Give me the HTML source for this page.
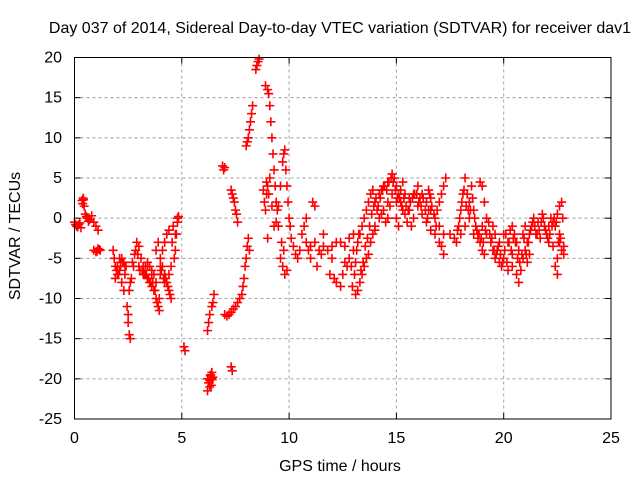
<!DOCTYPE html>
<html><head><meta charset="utf-8"><style>
body{margin:0;background:#fff}
svg{display:block;font-family:"Liberation Sans",sans-serif}
</style></head><body>
<svg id="chart" width="640" height="480" viewBox="0 0 640 480">
<rect width="640" height="480" fill="#fff"/>
<text x="340" y="33" font-size="16" text-anchor="middle">Day 037 of 2014, Sidereal Day-to-day VTEC variation (SDTVAR) for receiver dav1</text>
<text x="340" y="471" font-size="16" text-anchor="middle">GPS time / hours</text>
<text transform="translate(20,236) rotate(-90)" font-size="16" text-anchor="middle">SDTVAR / TECUs</text>
<g id="grid"></g>
<g id="ticks"></g>
<g id="marks"></g>
<rect x="74.5" y="57.5" width="536.5" height="361.5" fill="none" stroke="#000" stroke-width="1"/>
</svg>
<script>
const xTicks=[0,5,10,15,20,25];
const yTicks=[-25,-20,-15,-10,-5,0,5,10,15,20];
const times=[0,0.1,0.2,0.3,0.35,0.4,0.45,0.5,0.6,0.7,0.8,0.9,1.0,1.1,0.9,1.0,1.1,1.2,
1.8,1.85,1.9,2.0,2.1,2.2,2.3,2.4,2.45,2.5,2.55,2.6,2.5,2.6,2.7,2.8,2.9,3.0,3.1,3.2,3.3,3.4,3.5,3.6,3.7,3.8,3.9,3.95,3.8,3.9,4.0,4.1,4.2,4.3,4.4,4.5,4.1,4.2,4.3,4.4,4.6,4.65,4.7,4.75,4.8,4.85,3.5,3.6,3.7,3.4,3.3,2.2,2.3,2.1,3.0,3.2,4.0,4.2,4.4,4.5,2.0,1.9,
5.1,5.15,
6.2,6.25,6.3,6.35,6.4,6.45,6.3,6.4,6.2,6.2,6.25,6.3,6.4,6.45,6.5,
6.9,6.95,7.0,
7.3,7.35,7.4,7.45,7.5,7.55,7.6,7.3,7.35,
7.0,7.1,7.2,7.3,7.4,7.5,7.6,7.7,7.8,7.85,7.9,7.95,8.0,8.05,8.1,8.15,
8.0,8.05,8.1,8.15,8.2,8.25,8.3,8.5,8.55,8.6,
8.9,9.0,9.05,9.1,9.15,9.2,9.25,9.3,9.35,9.4,8.8,8.85,8.9,8.95,9.0,9.1,9.2,9.3,9.0,
9.7,9.75,9.8,9.85,9.9,9.95,10.0,10.05,10.1,10.2,10.3,10.4,10.5,9.6,9.7,9.8,9.9,9.6,9.5,9.4,9.5,
10.6,10.8,11.0,11.2,11.4,11.6,11.8,12.0,12.2,12.4,12.6,12.8,13.0,11.0,11.3,11.1,11.2,10.7,10.8,11.9,12.1,12.2,12.4,12.5,13.1,13.2,13.3,13.4,13.5,13.6,13.7,13.8,13.9,14.0,12.8,12.9,13.0,13.1,13.2,13.3,13.4,13.5,13.6,13.7,13.8,13.9,14.0,14.1,14.2,14.3,14.0,12.0,11.6,10.9,11.5,12.6,12.7,
14.2,14.4,14.6,14.8,14.9,15.0,15.1,15.2,15.3,15.4,15.5,14.4,14.6,14.8,15.0,15.2,15.4,15.6,15.8,16.0,16.2,16.4,16.6,16.8,15.6,15.8,16.0,16.2,16.4,16.6,16.8,17.0,17.1,17.2,16.9,17.0,17.1,17.2,17.3,17.2,17.0,16.5,16.6,14.6,14.5,15.1,
17.5,17.7,17.9,18.0,18.1,18.2,18.3,18.4,18.5,18.6,18.7,18.8,18.9,19.0,18.0,18.2,18.4,18.6,18.8,19.0,19.2,19.3,19.0,18.9,19.1,17.8,19.1,19.2,
19.4,19.5,19.6,19.7,19.8,19.9,20.0,20.2,20.4,20.1,20.2,20.3,20.4,20.5,20.6,20.7,20.8,20.9,21.0,21.1,21.2,21.3,21.4,21.6,21.8,21.9,22.0,22.1,21.5,21.7,19.5,19.6,19.8,20.0,21.0,20.9,21.2,21.1,20.6,20.7,20.4,
22.1,22.2,22.3,22.4,22.5,22.6,22.7,22.6,22.6,22.5,22.4,22.5,22.7,22.8,22.8,22.75,22.3,
0.05,0.15,0.25,0.38,0.42,0.55,0.65,1.05,1.15,
1.95,2.05,2.15,2.25,2.35,2.55,2.65,2.75,2.85,2.95,3.05,3.15,3.25,3.35,3.45,3.55,3.65,3.75,3.85,3.95,4.05,4.15,4.25,4.35,4.45,4.55,4.7,4.8,3.4,3.6,3.8,4.0,2.15,2.35,
6.28,6.33,6.38,6.42,8.45,8.95,9.05,9.45,9.65,9.75,
12.95,13.05,13.15,13.25,13.35,13.45,13.55,13.65,13.75,13.85,13.95,14.05,14.15,14.25,14.35,14.45,14.55,14.65,14.75,14.85,14.95,15.05,15.15,15.25,15.35,15.45,15.55,15.65,15.75,15.85,15.95,16.05,16.15,16.25,16.35,16.45,16.55,16.65,16.75,16.85,14.3,14.7,15.0,15.3,15.7,16.1,16.5,
17.85,17.95,18.05,18.15,18.25,18.35,18.45,18.55,18.65,18.75,18.85,18.95,19.05,19.15,19.35,19.45,19.55,19.65,19.75,19.85,19.95,20.05,20.15,20.25,20.35,20.45,20.55,20.65,20.75,20.85,20.95,21.05,21.15,21.25,21.35,21.45,21.55,21.65,21.75,21.85,21.95,22.05,22.15,22.25,22.35,22.45,22.55,22.65];
const values=[-0.5,-1,-0.8,-1.2,2.2,2.5,1.5,0.5,0,-0.2,0.3,-0.5,-1,-1.5,-4,-4.2,-3.8,-4,
-4,-5,-6,-7,-6.5,-8,-9,-6,-11,-13,-14.5,-15,-12,-8,-5.5,-4.5,-3,-3.5,-5,-6,-7,-7.5,-8,-8.5,-9,-10,-11,-11.5,-4,-3,-5,-6,-7,-8,-9,-10,-4,-3,-2,-1.5,-1,-5,-4,-2,0,0.2,-6,-6.5,-7,-5.5,-6,-5,-5.5,-5,-6,-7,-7,-8,-7,-6,-6,-7.5,
-16,-16.5,
-20,-20.5,-21,-19.5,-20,-19.8,-20.2,-19.2,-21.5,-14,-13,-12,-11,-10.5,-9.5,
6.5,6.0,6.3,
3.5,3,2.5,2,1,0.5,-0.5,-18.5,-19,
-12,-12.2,-12,-11.7,-11.3,-11,-10.5,-10,-9.5,-8.5,-7.5,-6,-5,-3.5,-2.5,-4,
9,9.5,10,11,12,13,14,19,19.5,19.8,
16.5,16,15.5,14,12,10,8,6,4,2,3.5,2,1,3,4,5,1.5,-1,-2.5,
7,8,8.5,6,4,2,0,-1,-2.5,-3.5,-4.5,-5,-4,-5,-6,-7,-6.5,4,1.5,-0.5,-1,
-2,-3,-3.5,-3,-4,-3.5,-4,-3.5,-3,-3,-3.5,-2.5,-2,-5,-6,2,1.5,-1,0,-7,-7.5,-8,-8.5,-7,-9.5,-9,-8,-7,-6,-5,-4.5,-3,-2,-1.5,-5,-6,-4,-5.5,-3,-2,-1,0,1,2,3,3.5,2,1,0,0.5,-1,-5,-2,-4,-4.5,-5.5,-6,
3,4,4.5,5.5,5,4,3,2,1,0.5,-0.5,1,2,3,2,3.5,3,2.5,3,4,3,2,1,0,1,0,1.5,0.5,-0.5,-1.5,-2,-3,-3.5,-2,1,2,3,4,5,-4.5,-1,3.5,2.5,0,-0.5,-1,
-2,-2.5,-1,1,3,5,3,2,4,1,-1,-2,-3,-4,-2,-1,0,-2,-2.5,-1,0,-0.5,4,4.5,2,-3,-4.5,-2,
-3,-4,-5,-4,-5.5,-6,-5,-6.5,-6,-2,-3,-1.5,-1,-2,-3,-4,-6.5,-5,-4,-3,-2,-1,0,-0.5,0.5,-1,-2,-3,-2,-2.5,-1,-2,-3,-2,-1,-2,-4.5,-5.5,-7,-8,-4.5,
-1,0,-0.5,-1,0.5,1.5,2,-2,-3,-5,-6,-7,-4,-3.5,-4.5,0,-3.5,
-0.8,-1.1,-0.6,1.8,2.3,0.2,-0.4,-4.1,-3.9,
-6.5,-7,-6,-5.5,-7,-9,-7.5,-6,-4,-4.5,-6.5,-6.5,-7,-7,-7.5,-8,-8,-9,-10.5,-10,-6.5,-7.5,-7.5,-8.5,-9.5,-3,-2,-0.5,-6,-7,-8,-6,-5.5,-6,
-20.5,-19.6,-20.8,-20.1,18.5,4.5,3,1,-3,-4,
-8.5,-7,-4,-2,-6.5,-5.5,-3.5,-2.5,-1,0.5,1.5,2.5,1.5,2.5,3.5,4,3.5,4.5,5,4.5,3.5,2.5,2.5,1.5,2.5,1.5,1,2,2.5,3,3,2,1.5,2.5,1,0,3,1.5,0.5,-1,3.5,1.5,0,4.5,-1,2.5,1,
-1.5,0,2,3.5,1.5,1,1,2.5,0,-1.5,-2,-2.5,-3,-1.5,-2,-2.5,-4,-4.5,-3.5,-4.5,-5.5,-4,-5.5,-3,-4,-2.5,-3,-5,-5.5,-4.5,-2.5,-4.5,-3,-1.5,-0.5,-1,-2,-1.5,-0.5,0,-1.5,-2.5,-2,-1,0,-0.5,-3,-2.5];

const NS='http://www.w3.org/2000/svg';
const X0=74.5,X1=611,Y0=419,Y1=57.5;
function xs(t){return X0+(t-0)/(25-0)*(X1-X0);}
function ys(v){return Y0-(v-(-25))/(20-(-25))*(Y0-Y1);}
const grid=document.getElementById('grid'),ticks=document.getElementById('ticks'),marks=document.getElementById('marks');
function mk(tag,attrs,parent){const e=document.createElementNS(NS,tag);for(const k in attrs)e.setAttribute(k,attrs[k]);parent.appendChild(e);return e;}
xTicks.forEach(t=>{
  const x=xs(t);
  if(t>0&&t<25){
    const g=mk('line',{x1:x,x2:x,y1:Y1,y2:Y0,stroke:'#a0a0a0','stroke-dasharray':'3,3'},grid);
    
    
  }
  const a=mk('line',{x1:x,x2:x,y1:Y0,y2:Y0-6,stroke:'#000'},ticks);
  
  
  const b=mk('line',{x1:x,x2:x,y1:Y1,y2:Y1+6,stroke:'#000'},ticks);
  
  
  const l=mk('text',{x:x,y:443,'font-size':16,'text-anchor':'middle'},ticks);
  l.textContent=t;
  
  
});
yTicks.forEach(v=>{
  const y=ys(v);
  if(v>-25&&v<20){
    const g=mk('line',{x1:X0,x2:X1,y1:y,y2:y,stroke:'#a0a0a0','stroke-dasharray':'3,3'},grid);
    
    
  }
  const a=mk('line',{x1:X0,x2:X0+6,y1:y,y2:y,stroke:'#000'},ticks);
  
  
  const b=mk('line',{x1:X1,x2:X1-6,y1:y,y2:y,stroke:'#000'},ticks);
  
  
  const l=mk('text',{x:62,y:y+5,'font-size':16,'text-anchor':'end'},ticks);
  l.textContent=v;
  
  
});
const n=Math.min(times.length,values.length);
for(let i=0;i<n;i++){
  const x=xs(times[i]),y=ys(values[i]);
  const p=mk('path',{d:`M${x-4.5},${y}H${x+4.5}M${x},${y-4.5}V${y+4.5}`,stroke:'#f00','stroke-width':1.6,fill:'none'},marks);
  
  
}
</script>
</body></html>
